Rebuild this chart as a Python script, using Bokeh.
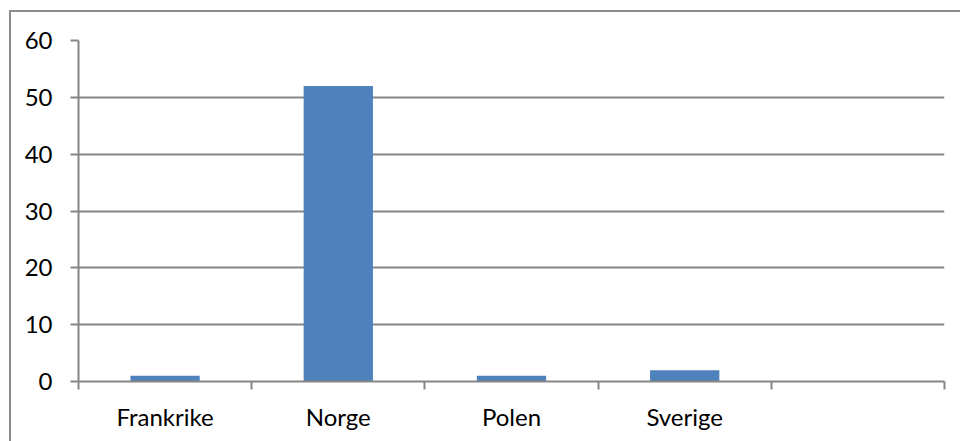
from bokeh.plotting import figure
from bokeh.models import Range1d, FixedTicker, ColumnDataSource
from bokeh.embed import file_html
from bokeh.resources import INLINE

categories = ["Frankrike", "Norge", "Polen", "Sverige", ""]
values = [1, 52, 1, 2, 0]
y_ticks = [0, 10, 20, 30, 40, 50, 60]

FONT = "Lato"
GRAY = "#868686"
BAR = "#4F81BD"

xs = [i + 0.5 for i in range(len(categories))]
src = ColumnDataSource(dict(x=xs, top=values, cat=categories))

p = figure(width=951, height=431, output_backend="svg", toolbar_location=None,
           x_range=Range1d(0, len(categories)), y_range=Range1d(0, 60),
           min_border_left=67, min_border_right=18, min_border_top=28, min_border_bottom=62)
p.margin = (10, 0, 0, 9)
p.outline_line_color = None
p.background_fill_color = "white"
p.border_fill_color = "white"
p.styles = {"border-top": "2px solid #8c8c8c", "border-left": "2px solid #8c8c8c"}

p.vbar(x="x", top="top", width=0.4, source=src, fill_color=BAR, line_color=None)

# x axis: labels at centers, boundary ticks as minor ticks
xa = p.xaxis[0]
xa.ticker = FixedTicker(ticks=xs[:4], minor_ticks=list(range(len(categories) + 1)))
xa.major_label_overrides = {x: c for x, c in zip(xs, categories)}
xa.major_tick_out = 0
xa.major_tick_in = 0
xa.minor_tick_out = 8
xa.minor_tick_in = 0
xa.minor_tick_line_color = GRAY
xa.minor_tick_line_width = 2
xa.axis_line_color = GRAY
xa.axis_line_width = 2
xa.major_label_text_font = FONT
xa.major_label_text_font_size = "24px"
xa.major_label_text_color = "black"
xa.major_label_standoff = 12

ya = p.yaxis[0]
ya.ticker = FixedTicker(ticks=y_ticks)
ya.minor_tick_line_color = None
ya.major_tick_out = 8
ya.major_tick_in = 0
ya.major_tick_line_color = GRAY
ya.major_tick_line_width = 2
ya.axis_line_color = GRAY
ya.axis_line_width = 2
ya.major_label_text_font = FONT
ya.major_label_text_font_size = "24px"
ya.major_label_text_color = "black"
ya.major_label_standoff = 18

p.xgrid.grid_line_color = None
p.ygrid.grid_line_color = GRAY
p.ygrid.grid_line_width = 2
p.ygrid.ticker = FixedTicker(ticks=y_ticks)

open("out.html", "w").write(file_html(p, INLINE))
